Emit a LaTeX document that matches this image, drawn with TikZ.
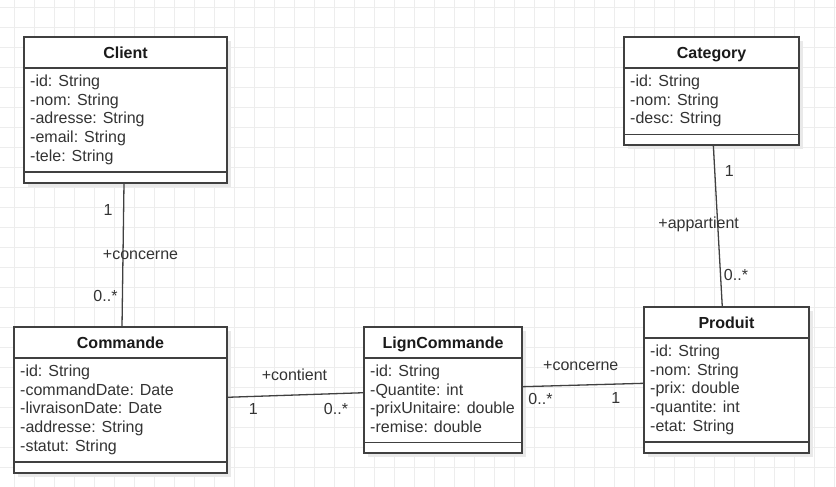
\documentclass[tikz,border=0pt]{standalone}
\usepackage{fontspec}
\setmainfont{Liberation Sans}
\usetikzlibrary{calc,shadows}
\definecolor{gridc}{HTML}{EDEDED}
\definecolor{linec}{HTML}{404040}
\definecolor{txtc}{HTML}{333333}
\definecolor{titc}{HTML}{1A1A1A}
\definecolor{shc}{HTML}{E9E9E9}
\tikzset{
 cls/.style={draw=linec, line width=1.4pt, fill=white, rectangle, inner sep=0pt, outer sep=0pt, anchor=north west,
   drop shadow={shadow xshift=4pt, shadow yshift=-4pt, fill=shc, opacity=1}},
 sepline/.style={draw=linec, line width=1.4pt},
 ctitle/.style={font=\fontsize{16}{19}\selectfont\bfseries, text=titc, anchor=base, inner sep=0pt},
 attrs/.style={font=\fontsize{16}{18.8}\selectfont, text=txtc, anchor=north west, align=left, inner sep=0pt},
 assoc/.style={draw=linec, line width=1.3pt},
 lbl/.style={font=\fontsize{16}{19}\selectfont, text=txtc, anchor=base, inner sep=0pt},
 gridline/.style={draw=gridc, line width=1pt},
}
\begin{document}
\begin{tikzpicture}[x=1pt,y=-1pt]
\useasboundingbox (0,0) rectangle (836,487);
\fill[white] (0,0) rectangle (836,487);
% grid
\foreach \i in {0,...,41} { \draw[gridline] ({14.3+20*\i},0) -- ({14.3+20*\i},487); }
\foreach \j in {0,...,24} { \draw[gridline] (0,{7.3+20*\j}) -- (836,{7.3+20*\j}); }

% Client
\node[cls, minimum width=203pt, minimum height=146pt] (client) at (24,37) {};
\draw[sepline] (24,68) -- (227,68);
\draw[sepline] (24,172) -- (227,172);
\node[ctitle] (client-t) at (125.5,58.5) {Client};
\node[attrs] (client-a) at (30,74.5) {-id: String\\-nom: String\\-adresse: String\\-email: String\\-tele: String};

% Category
\node[cls, minimum width=175pt, minimum height=108pt] (category) at (624,37) {};
\draw[sepline] (624,68) -- (799,68);
\draw[sepline] (624,134.5) -- (799,134.5);
\node[ctitle] (category-t) at (711.5,58.5) {Category};
\node[attrs] (category-a) at (630,74.5) {-id: String\\-nom: String\\-desc: String};

% Commande
\node[cls, minimum width=213pt, minimum height=146pt] (commande) at (14,327) {};
\draw[sepline] (14,358) -- (227,358);
\draw[sepline] (14,462) -- (227,462);
\node[ctitle] (commande-t) at (120.5,348.5) {Commande};
\node[attrs] (commande-a) at (20,364.5) {-id: String\\-commandDate: Date\\-livraisonDate: Date\\-addresse: String\\-statut: String};

% LignCommande
\node[cls, minimum width=158pt, minimum height=126pt] (lign) at (364,327) {};
\draw[sepline] (364,358) -- (522,358);
\draw[sepline] (364,442.5) -- (522,442.5);
\node[ctitle] (lign-t) at (443,348.5) {LignCommande};
\node[attrs] (lign-a) at (370,364.5) {-id: String\\-Quantite: int\\-prixUnitaire: double\\-remise: double};

% Produit
\node[cls, minimum width=165pt, minimum height=146pt] (produit) at (644,307) {};
\draw[sepline] (644,338) -- (809,338);
\draw[sepline] (644,442) -- (809,442);
\node[ctitle] (produit-t) at (726.5,328.5) {Produit};
\node[attrs] (produit-a) at (650,344.5) {-id: String\\-nom: String\\-prix: double\\-quantite: int\\-etat: String};

% associations
\draw[assoc] ($(client.south)+(-1.5,0)$) -- ($(commande.north)+(1.5,0)$);
\draw[assoc] ($(category.south)+(1.8,0)$) -- ($(produit.north)+(-4.2,0)$);
\draw[assoc] ($(commande.east)+(0,-2.7)$) -- ($(lign.west)+(0,2.7)$);
\draw[assoc] ($(lign.east)+(0,-3.3)$) -- ($(produit.west)+(0,3.3)$);

% labels
\node[lbl] (l1) at (108,215.7) {1};
\node[lbl] (l2) at (140.5,259) {+concerne};
\node[lbl] (l3) at (105.5,301.7) {0..*};
\node[lbl] (l4) at (729.3,176) {1};
\node[lbl] (l5) at (698.7,228.3) {+appartient};
\node[lbl] (l6) at (736,280) {0..*};
\node[lbl] (l7) at (294.5,380) {+contient};
\node[lbl] (l8) at (253.3,414.3) {1};
\node[lbl] (l9) at (336,414.3) {0..*};
\node[lbl] (l10) at (580.8,370) {+concerne};
\node[lbl] (l11) at (540.5,404.3) {0..*};
\node[lbl] (l12) at (615.7,403.7) {1};
\end{tikzpicture}
\end{document}
